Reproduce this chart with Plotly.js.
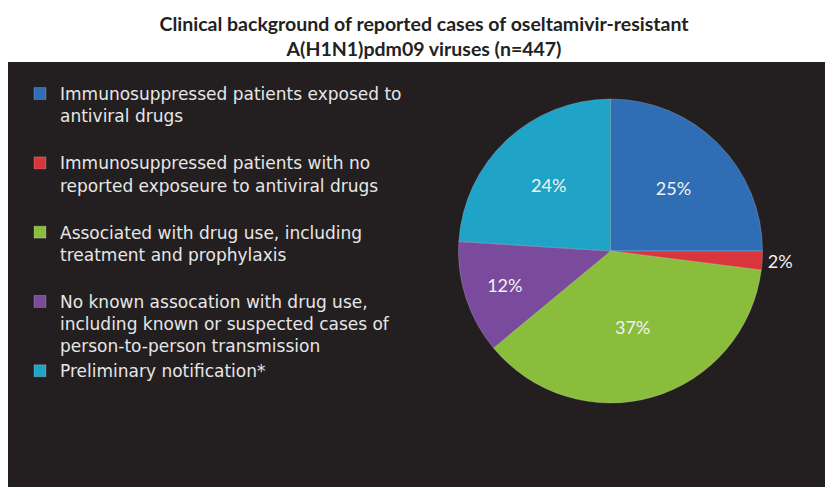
<!DOCTYPE html>
<html>
<head>
<meta charset="utf-8">
<script src="https://cdn.plot.ly/plotly-3.0.1.min.js"></script>
<style>html,body{margin:0;padding:0;background:#fff;}#chart{width:825px;height:487px;}</style>
</head>
<body>
<div id="chart"></div>
<script>
const categories = [
  'Immunosuppressed patients exposed to<br>antiviral drugs<br> ',
  'Immunosuppressed patients with no<br>reported exposeure to antiviral drugs<br> ',
  'Associated with drug use, including<br>treatment and prophylaxis<br> ',
  'No known assocation with drug use,<br>including known or suspected cases of<br>person-to-person transmission',
  'Preliminary notification*'
];
const percentages = [25, 2, 37, 12, 24];
const sliceColors = ['#2f6db5', '#d9353a', '#8bbd3c', '#7a4b9c', '#1fa3c6'];
const labelPositions = ['inside', 'outside', 'inside', 'inside', 'inside'];

const W = 825, H = 487;
const trace = {
  type: 'pie',
  labels: categories,
  values: percentages,
  sort: false,
  direction: 'clockwise',
  rotation: 0,
  textinfo: 'percent',
  textposition: labelPositions,
  insidetextorientation: 'horizontal',
  textfont: {family: 'Lato, sans-serif', size: 18, color: '#f2f2f2'},
  outsidetextfont: {family: 'Lato, sans-serif', size: 18, color: '#f2f2f2'},
  marker: {colors: sliceColors, line: {color: 'rgba(255,255,255,0.25)', width: 0.8}},
  domain: {x: [458 / W, 763 / W], y: [1 - 403 / H, 1 - 99 / H]},
  hoverinfo: 'label+percent'
};

const layout = {
  width: W, height: H,
  margin: {l: 0, r: 0, t: 0, b: 0},
  paper_bgcolor: '#ffffff',
  plot_bgcolor: '#ffffff',
  title: {
    text: 'Clinical background of reported cases of oseltamivir-resistant<br>A(H1N1)pdm09 viruses (n=447)',
    font: {family: 'Lato, sans-serif', size: 19.5, color: '#222222', weight: 'bold'},
    x: 424 / W, xanchor: 'center', xref: 'paper',
    y: 1 - 31 / H, yanchor: 'top', yref: 'container'
  },
  shapes: [{
    type: 'rect', xref: 'paper', yref: 'paper', layer: 'below',
    x0: 8 / W, x1: 1, y0: 0, y1: 1 - 62 / H,
    fillcolor: '#231f20', line: {width: 0}
  }],
  showlegend: true,
  legend: {
    x: 20 / W, xanchor: 'left', y: 1 - 76 / H, yanchor: 'top',
    bgcolor: 'rgba(0,0,0,0)',
    font: {family: 'DejaVu Sans, sans-serif', size: 17, color: '#e6e6e6'},
    valign: 'top',
    itemclick: false, itemdoubleclick: false
  }
};

Plotly.newPlot('chart', [trace], layout, {displayModeBar: false, staticPlot: true});
</script>
</body>
</html>
